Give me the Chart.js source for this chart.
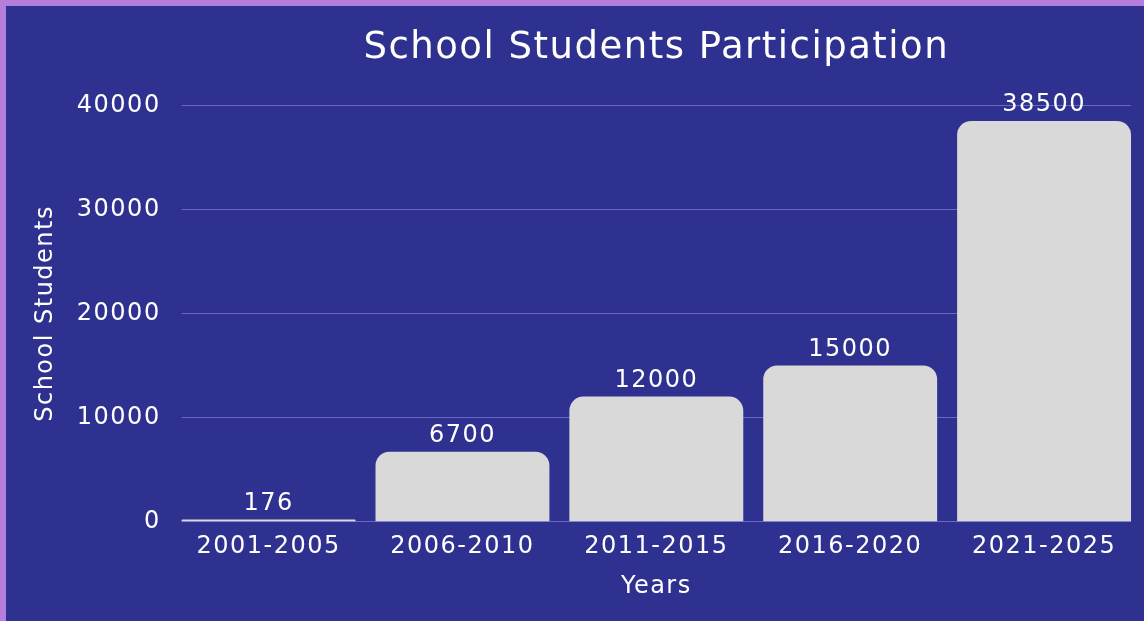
<!DOCTYPE html>
<html>
<head>
<meta charset="utf-8">
<script src="https://cdn.jsdelivr.net/npm/chart.js@4"></script>
<style>
  html, body { margin: 0; padding: 0; background: #b57edc; overflow: hidden; }
  #wrap { position: absolute; left: 6px; top: 6px; width: 1138px; height: 615px; background: #2e3190; }
</style>
</head>
<body>
<div id="wrap"><canvas id="chart"></canvas></div>
<script>
// data
const periods = ['2001-2005', '2006-2010', '2011-2015', '2016-2020', '2021-2025'];
const students = [176, 6700, 12000, 15000, 38500];
const yTicks = [0, 10000, 20000, 30000, 40000];

const FONT = '"DejaVu Sans", sans-serif';

// the original font is wider, so space the letters out a bit
const spacing = {
  id: 'spacing',
  beforeUpdate(chart) { chart.ctx.letterSpacing = '1.5px'; },
  beforeDraw(chart) { chart.ctx.letterSpacing = '1.5px'; }
};

// horizontal grid lines, a little inset from the plot edges
const gridLines = {
  id: 'gridLines',
  beforeDatasetsDraw(chart) {
    const { ctx, chartArea, scales } = chart;
    ctx.save();
    ctx.strokeStyle = 'rgba(120,120,210,0.8)';
    ctx.lineWidth = 1;
    yTicks.forEach(v => {
      const y = Math.round(scales.y.getPixelForValue(v)) + 0.5;
      ctx.beginPath();
      ctx.moveTo(chartArea.left + 10, y);
      ctx.lineTo(chartArea.right - 10, y);
      ctx.stroke();
    });
    ctx.restore();
  }
};

// value labels on top of the bars (no datalabels plugin offline)
const barLabels = {
  id: 'barLabels',
  afterDatasetsDraw(chart) {
    const ctx = chart.ctx;
    const meta = chart.getDatasetMeta(0);
    ctx.save();
    ctx.fillStyle = '#ffffff';
    ctx.font = '24px ' + FONT;
    ctx.textAlign = 'center';
    ctx.textBaseline = 'bottom';
    meta.data.forEach((bar, i) => {
      ctx.fillText(String(students[i]), bar.x, bar.y - 4);
    });
    ctx.restore();
  }
};

const ctx = document.getElementById('chart').getContext('2d');
new Chart(ctx, {
  type: 'bar',
  data: {
    labels: periods,
    datasets: [{
      label: 'School Students',
      data: students,
      backgroundColor: '#d9d9d9',
      borderRadius: { topLeft: 14, topRight: 14 },
      borderSkipped: 'bottom',
      barPercentage: 0.897,
      categoryPercentage: 1.0
    }]
  },
  options: {
    responsive: true,
    maintainAspectRatio: false,
    animation: false,
    layout: { padding: { top: 8, right: 3, bottom: 16, left: 21 } },
    scales: {
      x: {
        grid: { display: false, drawTicks: false },
        border: { display: false },
        ticks: { color: '#ffffff', font: { family: FONT, size: 24 }, padding: 11 },
        title: { display: true, text: 'Years', color: '#ffffff', font: { family: FONT, size: 24 }, padding: { top: 0 } }
      },
      y: {
        min: 0,
        max: 40000,
        afterBuildTicks(axis) { axis.ticks = yTicks.map(v => ({ value: v })); },
        grid: { display: false, drawTicks: false },
        border: { display: false },
        ticks: {
          color: '#ffffff',
          font: { family: FONT, size: 24 },
          padding: 11,
          callback: v => String(v)
        },
        title: { display: true, text: 'School Students', color: '#ffffff', font: { family: FONT, size: 24 }, padding: { bottom: 6 } }
      }
    },
    plugins: {
      legend: { display: false },
      tooltip: { enabled: false },
      title: {
        display: true,
        fullSize: false,
        text: 'School Students Participation',
        color: '#ffffff',
        font: { family: FONT, size: 37, weight: 'normal' },
        padding: { top: 12, bottom: 35 }
      }
    }
  },
  plugins: [spacing, gridLines, barLabels]
});
</script>
</body>
</html>
